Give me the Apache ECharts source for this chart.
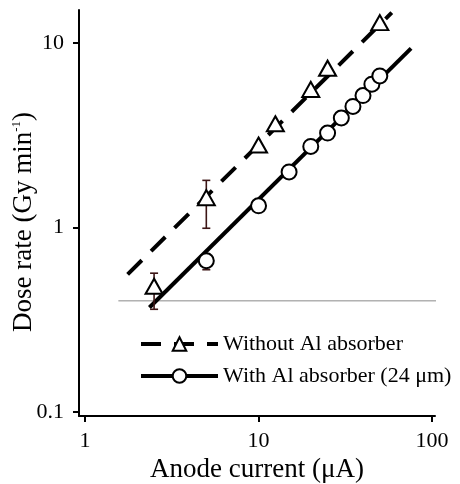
<!DOCTYPE html>
<html>
<head>
<meta charset="utf-8">
<script src="https://cdn.jsdelivr.net/npm/echarts@6/dist/echarts.min.js"></script>
<style>
    html, body { margin: 0; padding: 0; background: #fff; }
    #main { width: 460px; height: 484px; }
</style>
</head>
<body>
<div id="main"></div>
<script>
// 数据
var xTicks = [1, 10, 100];
var yTicks = [0.1, 1, 10];

// Without Al absorber (三角形)
var noAlCurrent = [2.5, 5, 10, 12.5, 20, 25, 50];
var noAlDose = [0.48, 1.45, 2.8, 3.65, 5.6, 7.3, 12.9];
var noAlErrLow = [0.36, 0.99, null, null, null, null, null];
var noAlErrHigh = [0.565, 1.8, null, null, null, null, null];

// With Al absorber 24 um (圆圈)
var alCurrent = [5, 10, 15, 20, 25, 30, 35, 40, 45, 50];
var alDose = [0.66, 1.31, 2.0, 2.75, 3.25, 3.92, 4.53, 5.19, 5.98, 6.63];
var alErrLow = [0.59, null, null, null, null, null, null, null, null, null];
var alErrHigh = [0.72, null, null, null, null, null, null, null, null, null];

// 拟合直线 两个端点
var noAlFitX = [1.76, 58.6];
var noAlFitY = [0.557, 14.6];
var alFitX = [2.35, 75.7];
var alFitY = [0.368, 9.36];

// 灰色参考线
var refX = [1.556, 150];
var refY = [0.4, 0.4];

var nameNoAl = 'Without Al absorber';
var nameAl = 'With Al absorber (24 \u03bcm)';

(function () {
    var myChart = echarts.init(document.getElementById('main'));
    var font = 'Liberation Serif';

    function pairs(xs, ys) {
        var out = [];
        for (var i = 0; i < xs.length; i++) {
            out.push([xs[i], ys[i]]);
        }
        return out;
    }

    // 误差棒数据
    var errData = [];
    for (var i = 0; i < noAlCurrent.length; i++) {
        if (noAlErrLow[i] != null) errData.push([noAlCurrent[i], noAlErrLow[i], noAlErrHigh[i]]);
    }
    for (var j = 0; j < alCurrent.length; j++) {
        if (alErrLow[j] != null) errData.push([alCurrent[j], alErrLow[j], alErrHigh[j]]);
    }

    var option = {
        animation: false,
        backgroundColor: '#fff',
        grid: {
            left: 79,
            right: 25,
            top: 10,
            bottom: 68,
            containLabel: false,
            outerBoundsMode: 'none'
        },
        legend: {
            orient: 'vertical',
            left: 139,
            top: 333,
            padding: 0,
            itemWidth: 77,
            itemHeight: 17,
            itemGap: 10,
            data: [nameNoAl, nameAl],
            lineStyle: { width: 4 },
            textStyle: { fontFamily: font, fontSize: 22, color: '#000' }
        },
        xAxis: {
            type: 'log',
            logBase: 10,
            min: 0.923,
            max: 104,
            name: 'Anode current (\u03bcA)',
            nameLocation: 'middle',
            nameGap: 40,
            nameMoveOverlap: false,
            nameTextStyle: { fontFamily: font, fontSize: 27, color: '#000' },
            axisLine: { lineStyle: { color: '#000', width: 2 } },
            axisTick: { customValues: xTicks, length: 6, lineStyle: { color: '#000', width: 2 } },
            axisLabel: { customValues: xTicks, margin: 14, fontFamily: font, fontSize: 22, color: '#000' },
            splitLine: { show: false },
            minorTick: { show: false }
        },
        yAxis: {
            type: 'log',
            logBase: 10,
            min: 0.095,
            max: 15.1,
            name: '{a|Dose rate (Gy min}{s|-1}{a|)}',
            nameLocation: 'middle',
            nameGap: 42,
            nameMoveOverlap: false,
            nameTextStyle: {
                fontFamily: font,
                color: '#000',
                padding: [0, 18, 0, 0],
                rich: {
                    a: { fontFamily: font, fontSize: 27, color: '#000' },
                    s: { fontFamily: font, fontSize: 13, color: '#000', verticalAlign: 'top' }
                }
            },
            axisLine: { lineStyle: { color: '#000', width: 2 } },
            axisTick: { customValues: yTicks, length: 6, lineStyle: { color: '#000', width: 2 } },
            axisLabel: { customValues: yTicks, margin: 15, fontFamily: font, fontSize: 22, color: '#000' },
            splitLine: { show: false },
            minorTick: { show: false }
        },
        series: [
            {
                // 灰色水平线
                name: 'ref',
                type: 'line',
                data: pairs(refX, refY),
                showSymbol: false,
                clip: false,
                silent: true,
                lineStyle: { color: '#8a8a8a', width: 1 },
                z: 1
            },
            {
                name: nameNoAl,
                type: 'line',
                data: pairs(noAlFitX, noAlFitY),
                symbol: 'triangle',
                showSymbol: false,
                lineStyle: { color: '#000', width: 4, type: [20, 13] },
                itemStyle: { color: '#fff', borderColor: '#000', borderWidth: 2 },
                z: 2
            },
            {
                name: nameAl,
                type: 'line',
                data: pairs(alFitX, alFitY),
                symbol: 'circle',
                showSymbol: false,
                lineStyle: { color: '#000', width: 4 },
                itemStyle: { color: '#fff', borderColor: '#000', borderWidth: 2 },
                z: 2
            },
            {
                // 误差棒
                name: 'err',
                type: 'custom',
                data: errData,
                encode: { x: 0, y: [1, 2] },
                renderItem: function (params, api) {
                    var lo = api.coord([api.value(0), api.value(1)]);
                    var hi = api.coord([api.value(0), api.value(2)]);
                    var w = 4;
                    var st = { stroke: '#3d1616', lineWidth: 1.6 };
                    return {
                        type: 'group',
                        children: [
                            { type: 'line', shape: { x1: lo[0], y1: lo[1], x2: hi[0], y2: hi[1] }, style: st },
                            { type: 'line', shape: { x1: lo[0] - w, y1: lo[1], x2: lo[0] + w, y2: lo[1] }, style: st },
                            { type: 'line', shape: { x1: hi[0] - w, y1: hi[1], x2: hi[0] + w, y2: hi[1] }, style: st }
                        ]
                    };
                },
                z: 3
            },
            {
                name: 'noAlPts',
                type: 'scatter',
                data: pairs(noAlCurrent, noAlDose),
                symbol: 'triangle',
                symbolSize: [17, 15],
                itemStyle: { color: '#fff', borderColor: '#000', borderWidth: 2, opacity: 1 },
                z: 4
            },
            {
                name: 'alPts',
                type: 'scatter',
                data: pairs(alCurrent, alDose),
                symbol: 'circle',
                symbolSize: 15,
                itemStyle: { color: '#fff', borderColor: '#000', borderWidth: 2, opacity: 1 },
                z: 4
            }
        ]
    };

    myChart.setOption(option);

    window.addEventListener('resize', function () {
        myChart.resize();
    });
})();
</script>
</body>
</html>
